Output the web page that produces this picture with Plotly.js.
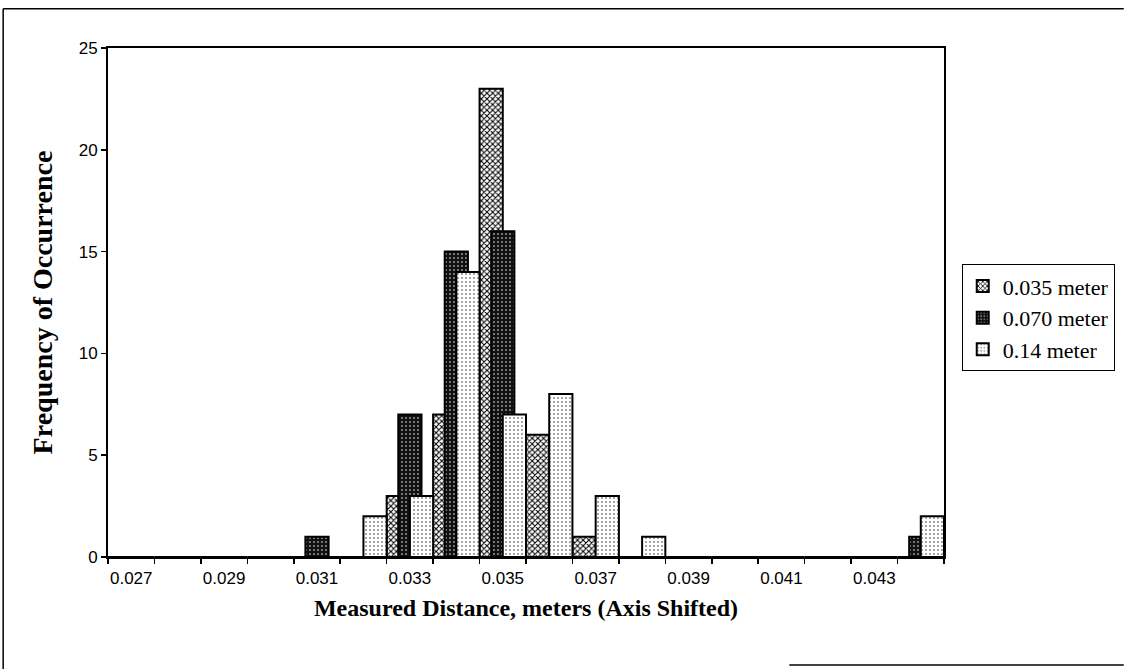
<!DOCTYPE html>
<html>
<head>
<meta charset="utf-8">
<script src="https://cdn.plot.ly/plotly-3.0.1.min.js"></script>
<style>html,body{margin:0;padding:0;background:#fff;}#chart{width:1126px;height:669px;}</style>
</head>
<body>
<div id="chart"></div>
<script>
const categories = ["0.027","0.028","0.029","0.030","0.031","0.032","0.033","0.034","0.035","0.036","0.037","0.038","0.039","0.040","0.041","0.042","0.043","0.044"];
const tickLabels = ["0.027","","0.029","","0.031","","0.033","","0.035","","0.037","","0.039","","0.041","","0.043",""];
const seriesNames = ["0.035 meter","0.070 meter","0.14 meter"];
const freq035 = [0,0,0,0,0,0,3,7,23,6,1,0,0,0,0,0,0,0];
const freq070 = [0,0,0,0,1,0,7,15,16,0,0,0,0,0,0,0,0,1];
const freq14  = [0,0,0,0,0,2,3,14,7,8,3,1,0,0,0,0,0,2];

const styles = [
  {offset:-0.5, pattern:{shape:"x", fgcolor:"#000", bgcolor:"#fff", size:4, solidity:0.45}},
  {offset:-0.25, pattern:{shape:".", fgcolor:"#fff", bgcolor:"#111", size:4, solidity:0.12}},
  {offset:0, pattern:{shape:".", fgcolor:"#8a8a8a", bgcolor:"#fff", size:4, solidity:0.2}}
];
const seriesData = [freq035, freq070, freq14];
const traces = seriesData.map((ys, i) => ({
  type: "bar",
  name: seriesNames[i],
  x: categories,
  y: ys,
  offset: styles[i].offset,
  width: 0.5,
  marker: {color: styles[i].pattern.bgcolor, pattern: styles[i].pattern, line: {color: "#000", width: 2}},
  hoverinfo: "x+y+name"
}));

const layout = {
  width: 1126, height: 669,
  margin: {l: 108, r: 181, t: 48, b: 112},
  paper_bgcolor: "#fff", plot_bgcolor: "#fff",
  barmode: "overlay",
  showlegend: true,
  legend: {
    x: 1.02, xanchor: "left", y: 0.47, yanchor: "middle",
    bordercolor: "#000", borderwidth: 1, bgcolor: "#fff",
    font: {family: "Liberation Serif, Times New Roman, serif", size: 22, color: "#000"},
    itemwidth: 30, tracegroupgap: 4
  },
  xaxis: {
    type: "category",
    tickmode: "array", tickvals: categories, ticktext: tickLabels, tickangle: 0,
    tickson: "boundaries", ticks: "outside", ticklen: 5, tickwidth: 1.5, tickcolor: "#000",
    ticklabelstandoff: 5,
    showline: true, linecolor: "#000", linewidth: 2, mirror: true,
    showgrid: false, zeroline: false,
    tickfont: {family: "Liberation Sans, Arial, sans-serif", size: 17, color: "#000"},
    title: {text: "Measured Distance, meters (Axis Shifted)", standoff: 12,
            font: {family: "Liberation Serif, Times New Roman, serif", size: 24, color: "#000", weight: "bold"}}
  },
  yaxis: {
    range: [0, 25], tickvals: [0,5,10,15,20,25],
    ticks: "outside", ticklen: 5, tickwidth: 1.5, tickcolor: "#000",
    showline: true, linecolor: "#000", linewidth: 2, mirror: true,
    showgrid: false, zeroline: false,
    tickfont: {family: "Liberation Sans, Arial, sans-serif", size: 17, color: "#000"},
    title: {text: "Frequency of Occurrence", standoff: 18,
            font: {family: "Liberation Serif, Times New Roman, serif", size: 28, color: "#000", weight: "bold"}}
  },
  shapes: [
    {type: "line", xref: "paper", yref: "paper", x0: -0.1254, x1: -0.1254, y0: -0.22, y1: 1.077, line: {color: "#000", width: 1.5}},
    {type: "line", xref: "paper", yref: "paper", x0: -0.1254, x1: 1.215, y0: 1.077, y1: 1.077, line: {color: "#000", width: 1.5}},
    {type: "line", xref: "paper", yref: "paper", x0: 0.815, x1: 1.215, y0: -0.212, y1: -0.212, line: {color: "#000", width: 1.5}}
  ]
};

Plotly.newPlot("chart", traces, layout, {displayModeBar: false, staticPlot: true});
</script>
</body>
</html>
